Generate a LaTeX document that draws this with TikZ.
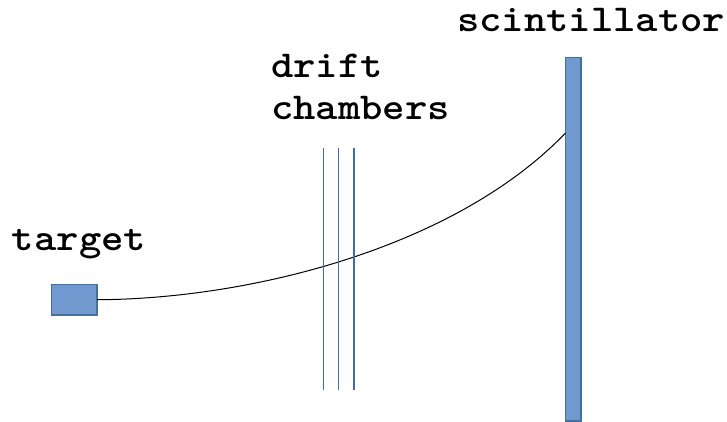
\documentclass[tikz,border=0pt]{standalone}
\usepackage{fontspec}
\usepackage{graphicx}
\definecolor{boxfill}{HTML}{7199CF}
\definecolor{boxline}{HTML}{41719C}
\definecolor{wire}{HTML}{3C6DB0}
\newcommand{\widelab}[1]{\scalebox{1.12}[1]{#1}}
\begin{document}
\begin{tikzpicture}[x=1pt,y=-1pt,
  box/.style={draw=boxline,fill=boxfill,line width=1.2pt,inner sep=0pt,outer sep=0pt,minimum width=0pt},
  lab/.style={font=\fontsize{38pt}{38pt}\selectfont\ttfamily\bfseries,anchor=base west,inner sep=0pt,outer sep=0pt},
  wireline/.style={draw=wire,line width=#1}]
\useasboundingbox (0,0) rectangle (727,422);
\node[box,minimum width=45.5pt,minimum height=30.5pt,anchor=north west] (target) at (51.5,284.5) {};
\node[box,minimum width=15.5pt,minimum height=363.5pt,anchor=north west] (scint) at (565.5,57.5) {};
\coordinate (hitpoint) at (565.5,133);
\draw[line width=1pt] (target.east) .. controls (250,299) and (455,248) .. (hitpoint);
\coordinate (w1t) at (323.5,148); \coordinate (w1b) at (323.5,390);
\coordinate (w2t) at (338.5,148); \coordinate (w2b) at (338.5,390);
\coordinate (w3t) at (354,148);   \coordinate (w3b) at (354,390);
\draw[wireline=0.9pt] (w1t) -- (w1b);
\draw[wireline=1.1pt] (w2t) -- (w2b);
\draw[wireline=1.4pt] (w3t) -- (w3b);
\node[lab] (ltarget) at (12,250) {\widelab{target}};
\node[lab] (ldrift) at (271,78) {\widelab{drift}};
\node[lab] (lchambers) at (271,120) {\widelab{chambers}};
\node[lab] (lscint) at (457,32) {\widelab{scintillator}};
\end{tikzpicture}
\end{document}
